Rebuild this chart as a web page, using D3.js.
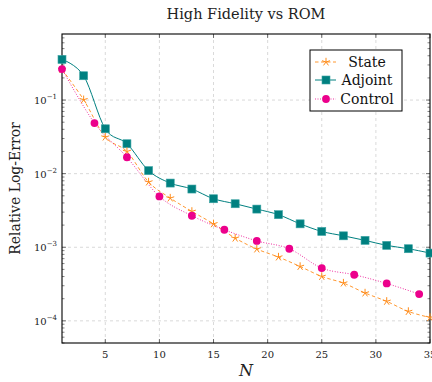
<!DOCTYPE html>
<html><head><meta charset="utf-8">
<script src="https://cdn.jsdelivr.net/npm/d3@7"></script>
<style>body{margin:0;background:#fff}svg{display:block}</style>
</head><body><div id="chart"></div>
<script>
const stateN = [1,3,5,7,9,11,13,15,17,19,21,23,25,27,29,31,33,35];
const stateV = [0.26,0.101,0.0314,0.020,0.0077,0.00466,0.00307,0.00208,0.00133,0.000946,0.000736,0.000548,0.000401,0.000326,0.000239,0.000184,0.000134,0.000111];
const adjN = [1,3,5,7,9,11,13,15,17,19,21,23,25,27,29,31,33,35];
const adjV = [0.356,0.214,0.0407,0.0255,0.0110,0.00745,0.00618,0.00456,0.0039,0.0033,0.00277,0.00208,0.00164,0.00143,0.00124,0.00106,0.000955,0.000834];
const ctrlN = [1,4,7,10,13,16,19,22,25,28,31,34];
const ctrlV = [0.264,0.0487,0.0167,0.0049,0.00268,0.00173,0.00122,0.000954,0.000521,0.000423,0.000322,0.000231];
const xTicks = [5,10,15,20,25,30,35];
const yTicks = [1e-1,1e-2,1e-3,1e-4];
const yTickExp = ["−1","−2","−3","−4"];
const legendLabels = ["State","Adjoint","Control"];
const title = "High Fidelity vs ROM";

const W=432,H=382;
const L=62,R=430,T=34,B=343;
const font="'DejaVu Serif',serif";
const svg=d3.select("#chart").append("svg").attr("width",W).attr("height",H);
const x=d3.scaleLinear().domain([1,35]).range([L,R]);
const y=d3.scaleLog().domain([5e-5,0.79]).range([B,T]);

// grid
const g=svg.append("g");
g.selectAll(".gx").data(xTicks.filter(d=>d<35)).join("line")
 .attr("x1",d=>x(d)).attr("x2",d=>x(d)).attr("y1",T).attr("y2",B)
 .attr("stroke","#cfcfcf").attr("stroke-width",0.8).attr("stroke-dasharray","3,3");
g.selectAll(".gy").data(yTicks).join("line")
 .attr("x1",L).attr("x2",R).attr("y1",d=>y(d)).attr("y2",d=>y(d))
 .attr("stroke","#cfcfcf").attr("stroke-width",0.8).attr("stroke-dasharray","3,3");

// minor ticks
const minors=[];
for(let e=-5;e<=0;e++)for(let m=2;m<=9;m++){const v=m*Math.pow(10,e);if(v>=5e-5&&v<=0.79)minors.push(v);}
[L,R].forEach((px,i)=>{
 const dir=i==0?1:-1;
 svg.append("g").selectAll("line").data(minors).join("line")
  .attr("x1",px).attr("x2",px+dir*2.5).attr("y1",d=>y(d)).attr("y2",d=>y(d))
  .attr("stroke","#333").attr("stroke-width",0.6);
 svg.append("g").selectAll("line").data(yTicks).join("line")
  .attr("x1",px).attr("x2",px+dir*4).attr("y1",d=>y(d)).attr("y2",d=>y(d))
  .attr("stroke","#333").attr("stroke-width",0.7);
});
[B,T].forEach((py,i)=>{
 const dir=i==0?-1:1;
 svg.append("g").selectAll("line").data(xTicks).join("line")
  .attr("x1",d=>x(d)).attr("x2",d=>x(d)).attr("y1",py).attr("y2",py+dir*4)
  .attr("stroke","#333").attr("stroke-width",0.7);
});

// frame
svg.append("rect").attr("x",L).attr("y",T).attr("width",R-L).attr("height",B-T)
 .attr("fill","none").attr("stroke","#000").attr("stroke-width",1.1);

// tick labels
svg.append("g").selectAll("text").data(xTicks).join("text")
 .attr("x",d=>x(d)).attr("y",B+15).attr("text-anchor","middle")
 .attr("font-family",font).attr("font-size",10).attr("fill","#222").text(d=>d);
const yl=svg.append("g").selectAll("text").data(yTicks).join("text")
 .attr("x",L-5).attr("y",d=>y(d)+4).attr("text-anchor","end")
 .attr("font-family",font).attr("font-size",10).attr("fill","#222");
yl.append("tspan").text("10");
yl.append("tspan").attr("dy",-5).attr("font-size",7).text((d,i)=>yTickExp[i]);

// title & axis labels
svg.append("text").attr("x",(L+R)/2).attr("y",19).attr("text-anchor","middle")
 .attr("font-family",font).attr("font-size",14.5).attr("fill","#222").text(title);
svg.append("text").attr("transform",`translate(20,${(T+B)/2}) rotate(-90)`).attr("text-anchor","middle")
 .attr("font-family",font).attr("font-size",14).attr("fill","#222").text("Relative Log-Error");
svg.append("text").attr("x",(L+R)/2).attr("y",376).attr("text-anchor","middle")
 .attr("font-family",font).attr("font-style","italic").attr("font-size",16).attr("fill","#222").text("N");

const cOrange="#ff8c1a",cTeal="#008080",cPink="#ec008c";
const line=d3.line().curve(d3.curveCatmullRom.alpha(0)).x(d=>x(d[0])).y(d=>y(d[1]));
const sData=stateN.map((n,i)=>[n,stateV[i]]);
const aData=adjN.map((n,i)=>[n,adjV[i]]);
const cData=ctrlN.map((n,i)=>[n,ctrlV[i]]);

function starPath(r){let p="";for(let k=0;k<5;k++){const a=-Math.PI/2+k*2*Math.PI/5;p+=`M0,0L${(r*Math.cos(a)).toFixed(2)},${(r*Math.sin(a)).toFixed(2)}`;}return p;}
function drawStar(sel,cx,cy){sel.append("path").attr("d",starPath(4.2)).attr("transform",`translate(${cx},${cy})`).attr("stroke",cOrange).attr("stroke-width",1).attr("fill","none");}
function drawSq(sel,cx,cy){sel.append("rect").attr("x",cx-4).attr("y",cy-4).attr("width",8).attr("height",8).attr("fill",cTeal).attr("stroke","#3aa3a3").attr("stroke-width",0.6);}
function drawCirc(sel,cx,cy){sel.append("circle").attr("cx",cx).attr("cy",cy).attr("r",3.9).attr("fill",cPink);}

// Adjoint
svg.append("path").attr("d",line(aData)).attr("fill","none").attr("stroke",cTeal).attr("stroke-width",1);
// State
svg.append("path").attr("d",line(sData)).attr("fill","none").attr("stroke",cOrange).attr("stroke-width",0.9).attr("stroke-dasharray","3.5,2.5");
// Control
svg.append("path").attr("d",line(cData)).attr("fill","none").attr("stroke",cPink).attr("stroke-width",1).attr("stroke-dasharray","0.8,1.8");

const mk=svg.append("g");
aData.forEach(d=>drawSq(mk,x(d[0]),y(d[1])));
sData.forEach(d=>drawStar(mk,x(d[0]),y(d[1])));
cData.forEach(d=>drawCirc(mk,x(d[0]),y(d[1])));

// legend
const lg=svg.append("g");
lg.append("rect").attr("x",310).attr("y",50).attr("width",92).attr("height",61).attr("fill","#fff").attr("stroke","#000").attr("stroke-width",1);
const ly=[62,80,99];
const lx1=315,lx2=336,lc=326;
lg.append("line").attr("x1",lx1).attr("x2",lx2).attr("y1",ly[0]).attr("y2",ly[0]).attr("stroke",cOrange).attr("stroke-width",0.9).attr("stroke-dasharray","3.5,2.5");
drawStar(lg,lc,ly[0]);
lg.append("line").attr("x1",lx1).attr("x2",lx2).attr("y1",ly[1]).attr("y2",ly[1]).attr("stroke",cTeal).attr("stroke-width",1);
drawSq(lg,lc,ly[1]);
lg.append("line").attr("x1",lx1).attr("x2",lx2).attr("y1",ly[2]).attr("y2",ly[2]).attr("stroke",cPink).attr("stroke-width",1).attr("stroke-dasharray","0.8,1.8");
drawCirc(lg,lc,ly[2]);
legendLabels.forEach((t,i)=>lg.append("text").attr("x",367).attr("y",ly[i]+5).attr("text-anchor","middle")
 .attr("font-family",font).attr("font-size",14).attr("fill","#111").text(t));
</script></body></html>
